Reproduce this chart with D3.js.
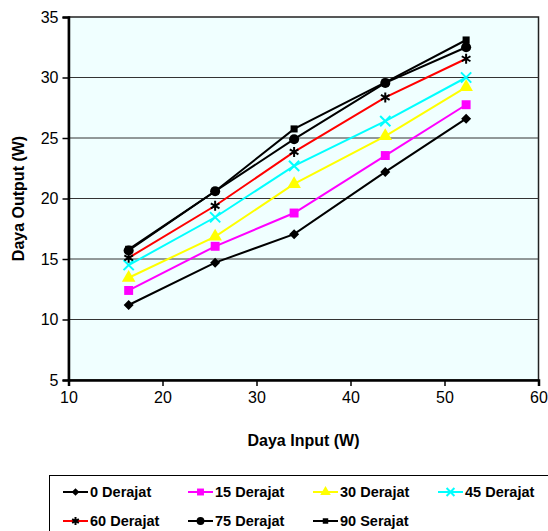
<!DOCTYPE html>
<html lang="en">
<head>
    <meta charset="utf-8">
    <title>Daya Output vs Daya Input</title>
    <script src="https://d3js.org/d3.v7.min.js"></script>
    <style>
        body { margin: 0; background: #fff; }
        svg text { font-family: Arial, "Liberation Sans", sans-serif; fill: #000; }
        .tick text { font-size: 16px; }
        .title { font-size: 16px; font-weight: bold; }
        .leg text { font-size: 14.5px; font-weight: bold; }
    </style>
</head>
<body>
<div id="chart"></div>
<script>
    // data
    var dayaInput = [16.4, 25.6, 34.0, 43.7, 52.3];
    var names = ["0 Derajat", "15 Derajat", "30 Derajat", "45 Derajat", "60 Derajat", "75 Derajat", "90 Serajat"];
    var d0 = [11.2, 14.7, 17.05, 22.2, 26.6];
    var d15 = [12.4, 16.05, 18.8, 23.55, 27.75];
    var d30 = [13.45, 16.85, 21.2, 25.15, 29.2];
    var d45 = [14.5, 18.45, 22.7, 26.4, 30.0];
    var d60 = [15.1, 19.4, 23.85, 28.35, 31.55];
    var d75 = [15.7, 20.6, 24.9, 29.55, 32.5];
    var d90 = [15.8, 20.6, 25.75, 29.6, 33.1];
    var xTicks = [10, 20, 30, 40, 50, 60];
    var yTicks = [5, 10, 15, 20, 25, 30, 35];

    var WIDTH = 548, HEIGHT = 531;
    var plotLeft = 68.5, plotRight = 538.5, plotTop = 17, plotBottom = 380;

    var series = [
        { name: names[0], values: d0, color: "#000", symbol: d3.symbolSquare, rot: 45, size: 50, fill: "#000", stroke: "none" },
        { name: names[1], values: d15, color: "#ff00ff", symbol: d3.symbolSquare, size: 80, fill: "#ff00ff", stroke: "none" },
        { name: names[2], values: d30, color: "#ffff00", symbol: d3.symbolTriangle, size: 80, fill: "#ffff00", stroke: "none" },
        { name: names[3], values: d45, color: "#00ffff", symbol: d3.symbolTimes, size: 70, fill: "none", stroke: "#00ffff" },
        { name: names[4], values: d60, color: "#ff0000", symbol: d3.symbolAsterisk, size: 70, fill: "none", stroke: "#000" },
        { name: names[5], values: d75, color: "#000", symbol: d3.symbolCircle, size: 80, fill: "#000", stroke: "none" },
        { name: names[6], values: d90, color: "#000", symbol: d3.symbolSquare, size: 50, fill: "#000", stroke: "none" }
    ];

    var svg = d3.select("#chart").append("svg")
        .attr("width", WIDTH)
        .attr("height", HEIGHT);

    var x = d3.scaleLinear().domain([10, 60]).range([plotLeft, plotRight]);
    var y = d3.scaleLinear().domain([5, 35]).range([plotBottom, plotTop]);

    // plot background
    svg.append("rect")
        .attr("x", plotLeft).attr("y", plotTop)
        .attr("width", plotRight - plotLeft).attr("height", plotBottom - plotTop)
        .attr("fill", "#f0ffff")
        .attr("stroke", "#222").attr("stroke-width", 1.5);

    // gridlines
    svg.append("g").selectAll("line")
        .data(yTicks.slice(1, -1))
        .enter().append("line")
        .attr("x1", plotLeft).attr("x2", plotRight)
        .attr("y1", d => y(d)).attr("y2", d => y(d))
        .attr("stroke", "#333").attr("stroke-width", 1);

    var xAxis = svg.append("g")
        .attr("transform", "translate(0," + plotBottom + ")")
        .call(d3.axisBottom(x).tickValues(xTicks).tickSize(6).tickPadding(6));
    var yAxis = svg.append("g")
        .attr("transform", "translate(" + plotLeft + ",0)")
        .call(d3.axisLeft(y).tickValues(yTicks).tickSize(6).tickPadding(4));
    [xAxis, yAxis].forEach(function (a) {
        a.select(".domain").attr("stroke", "#000").attr("stroke-width", 2.5);
        a.selectAll(".tick line").attr("stroke", "#000").attr("stroke-width", 1.5);
        a.selectAll(".tick text").attr("fill", "#000").style("font-family", "Arial, 'Liberation Sans', sans-serif");
    });

    svg.append("text").attr("class", "title")
        .attr("x", (plotLeft + plotRight) / 2).attr("y", 446)
        .attr("text-anchor", "middle")
        .text("Daya Input (W)");
    svg.append("text").attr("class", "title")
        .attr("transform", "translate(24," + ((plotTop + plotBottom) / 2) + ") rotate(-90)")
        .attr("text-anchor", "middle")
        .text("Daya Output (W)");

    var line = d3.line()
        .x((d, i) => x(dayaInput[i]))
        .y(d => y(d));

    function marker(sel, s) {
        sel.attr("d", d3.symbol().type(s.symbol).size(s.size))
            .attr("fill", s.fill)
            .attr("stroke", s.stroke)
            .attr("stroke-width", s.stroke === "none" ? 0 : 2);
    }

    series.forEach(function (s) {
        var g = svg.append("g");
        g.append("path")
            .attr("d", line(s.values))
            .attr("fill", "none")
            .attr("stroke", s.color)
            .attr("stroke-width", 2);
        g.selectAll(".pt").data(s.values).enter().append("path")
            .attr("class", "pt")
            .attr("transform", (d, i) => "translate(" + x(dayaInput[i]) + "," + y(d) + ") rotate(" + (s.rot || 0) + ")")
            .call(marker, s);
    });

    // legend
    var leg = svg.append("g").attr("class", "leg");
    leg.append("rect")
        .attr("x", 49.5).attr("y", 475.5)
        .attr("width", 520).attr("height", 80)
        .attr("fill", "#fff").attr("stroke", "#000").attr("stroke-width", 1);
    series.forEach(function (s, i) {
        var lx = 63 + (i % 4) * 125;
        var ly = 492 + Math.floor(i / 4) * 29;
        var it = leg.append("g");
        it.append("line")
            .attr("x1", lx).attr("x2", lx + 25)
            .attr("y1", ly).attr("y2", ly)
            .attr("stroke", s.color).attr("stroke-width", 2);
        it.append("path")
            .attr("transform", "translate(" + (lx + 12.5) + "," + ly + ") rotate(" + (s.rot || 0) + ")")
            .call(marker, Object.assign({}, s, { size: s.size * 0.6 }));
        it.append("text")
            .attr("x", lx + 27).attr("y", ly + 5)
            .text(s.name);
    });
</script>
</body>
</html>
